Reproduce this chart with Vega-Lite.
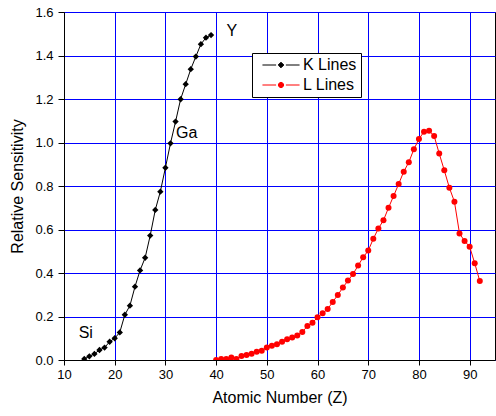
{
  "$schema": "https://vega.github.io/schema/vega-lite/v6.json",
  "width": 431,
  "height": 348,
  "autosize": "none",
  "padding": {"left": 64, "top": 12, "right": 1, "bottom": 56},
  "background": "white",
  "config": {
    "font": "Liberation Sans",
    "view": {"stroke": "black", "strokeWidth": 1},
    "axis": {
      "labelFont": "Liberation Sans",
      "labelFontSize": 13,
      "labelColor": "black",
      "titleFont": "Liberation Sans",
      "titleFontSize": 16,
      "titleFontWeight": "normal",
      "titleColor": "black",
      "domainColor": "black",
      "tickColor": "black"
    }
  },
  "datasets": {
    "lines": [
      {"Z": 14, "S": 0.005, "series": "K Lines"},
      {"Z": 15, "S": 0.017, "series": "K Lines"},
      {"Z": 16, "S": 0.028, "series": "K Lines"},
      {"Z": 17, "S": 0.046, "series": "K Lines"},
      {"Z": 18, "S": 0.057, "series": "K Lines"},
      {"Z": 19, "S": 0.084, "series": "K Lines"},
      {"Z": 20, "S": 0.100, "series": "K Lines"},
      {"Z": 21, "S": 0.127, "series": "K Lines"},
      {"Z": 22, "S": 0.208, "series": "K Lines"},
      {"Z": 23, "S": 0.250, "series": "K Lines"},
      {"Z": 24, "S": 0.337, "series": "K Lines"},
      {"Z": 25, "S": 0.412, "series": "K Lines"},
      {"Z": 26, "S": 0.470, "series": "K Lines"},
      {"Z": 27, "S": 0.572, "series": "K Lines"},
      {"Z": 28, "S": 0.690, "series": "K Lines"},
      {"Z": 29, "S": 0.774, "series": "K Lines"},
      {"Z": 30, "S": 0.884, "series": "K Lines"},
      {"Z": 31, "S": 0.996, "series": "K Lines"},
      {"Z": 32, "S": 1.096, "series": "K Lines"},
      {"Z": 33, "S": 1.199, "series": "K Lines"},
      {"Z": 34, "S": 1.268, "series": "K Lines"},
      {"Z": 35, "S": 1.337, "series": "K Lines"},
      {"Z": 36, "S": 1.395, "series": "K Lines"},
      {"Z": 37, "S": 1.452, "series": "K Lines"},
      {"Z": 38, "S": 1.482, "series": "K Lines"},
      {"Z": 39, "S": 1.494, "series": "K Lines"},
      {"Z": 40, "S": 0.000, "series": "L Lines"},
      {"Z": 41, "S": 0.005, "series": "L Lines"},
      {"Z": 42, "S": 0.005, "series": "L Lines"},
      {"Z": 43, "S": 0.011, "series": "L Lines"},
      {"Z": 44, "S": 0.005, "series": "L Lines"},
      {"Z": 45, "S": 0.018, "series": "L Lines"},
      {"Z": 46, "S": 0.023, "series": "L Lines"},
      {"Z": 47, "S": 0.029, "series": "L Lines"},
      {"Z": 48, "S": 0.038, "series": "L Lines"},
      {"Z": 49, "S": 0.043, "series": "L Lines"},
      {"Z": 50, "S": 0.057, "series": "L Lines"},
      {"Z": 51, "S": 0.066, "series": "L Lines"},
      {"Z": 52, "S": 0.072, "series": "L Lines"},
      {"Z": 53, "S": 0.084, "series": "L Lines"},
      {"Z": 54, "S": 0.095, "series": "L Lines"},
      {"Z": 55, "S": 0.103, "series": "L Lines"},
      {"Z": 56, "S": 0.113, "series": "L Lines"},
      {"Z": 57, "S": 0.129, "series": "L Lines"},
      {"Z": 58, "S": 0.156, "series": "L Lines"},
      {"Z": 59, "S": 0.171, "series": "L Lines"},
      {"Z": 60, "S": 0.196, "series": "L Lines"},
      {"Z": 61, "S": 0.215, "series": "L Lines"},
      {"Z": 62, "S": 0.234, "series": "L Lines"},
      {"Z": 63, "S": 0.267, "series": "L Lines"},
      {"Z": 64, "S": 0.299, "series": "L Lines"},
      {"Z": 65, "S": 0.333, "series": "L Lines"},
      {"Z": 66, "S": 0.365, "series": "L Lines"},
      {"Z": 67, "S": 0.395, "series": "L Lines"},
      {"Z": 68, "S": 0.434, "series": "L Lines"},
      {"Z": 69, "S": 0.472, "series": "L Lines"},
      {"Z": 70, "S": 0.503, "series": "L Lines"},
      {"Z": 71, "S": 0.557, "series": "L Lines"},
      {"Z": 72, "S": 0.605, "series": "L Lines"},
      {"Z": 73, "S": 0.642, "series": "L Lines"},
      {"Z": 74, "S": 0.700, "series": "L Lines"},
      {"Z": 75, "S": 0.754, "series": "L Lines"},
      {"Z": 76, "S": 0.809, "series": "L Lines"},
      {"Z": 77, "S": 0.866, "series": "L Lines"},
      {"Z": 78, "S": 0.909, "series": "L Lines"},
      {"Z": 79, "S": 0.969, "series": "L Lines"},
      {"Z": 80, "S": 1.016, "series": "L Lines"},
      {"Z": 81, "S": 1.050, "series": "L Lines"},
      {"Z": 82, "S": 1.054, "series": "L Lines"},
      {"Z": 83, "S": 1.030, "series": "L Lines"},
      {"Z": 84, "S": 0.949, "series": "L Lines"},
      {"Z": 85, "S": 0.872, "series": "L Lines"},
      {"Z": 86, "S": 0.792, "series": "L Lines"},
      {"Z": 87, "S": 0.728, "series": "L Lines"},
      {"Z": 88, "S": 0.582, "series": "L Lines"},
      {"Z": 89, "S": 0.547, "series": "L Lines"},
      {"Z": 90, "S": 0.521, "series": "L Lines"},
      {"Z": 91, "S": 0.445, "series": "L Lines"},
      {"Z": 92, "S": 0.363, "series": "L Lines"}
    ],
    "labels": [
      {"Z": 14.3, "S": 0.124, "label": "Si"},
      {"Z": 34.2, "S": 1.044, "label": "Ga"},
      {"Z": 43.1, "S": 1.513, "label": "Y"}
    ]
  },
  "layer": [
    {
      "data": {"name": "lines"},
      "mark": {"type": "line", "strokeWidth": 1, "clip": true},
      "encoding": {
        "x": {
          "field": "Z", "type": "quantitative",
          "scale": {"domain": [10, 95], "nice": false, "zero": false},
          "axis": {
            "title": "Atomic Number (Z)",
            "values": [10, 15, 20, 25, 30, 35, 40, 45, 50, 55, 60, 65, 70, 75, 80, 85, 90, 95],
            "labelExpr": "datum.value % 10 === 0 && datum.value < 95 ? datum.label : ''",
            "tickSize": {"condition": {"test": "datum.value % 10 === 0", "value": 5}, "value": 3},
            "grid": true,
            "gridColor": "#0000ff",
            "gridWidth": 1,
            "gridOpacity": {"condition": {"test": "datum.value % 10 === 0", "value": 1}, "value": 0},
            "labelPadding": 3,
            "titlePadding": 8,
            "labelFlush": false
          }
        },
        "y": {
          "field": "S", "type": "quantitative",
          "scale": {"domain": [0, 1.6], "nice": false},
          "axis": {
            "title": "Relative Sensitivity",
            "values": [0, 0.1, 0.2, 0.3, 0.4, 0.5, 0.6, 0.7, 0.8, 0.9, 1.0, 1.1, 1.2, 1.3, 1.4, 1.5, 1.6],
            "labelExpr": "round(datum.value * 10) % 2 === 0 ? format(datum.value, '.1f') : ''",
            "tickSize": {"condition": {"test": "round(datum.value * 10) % 2 === 0", "value": 6}, "value": 4},
            "grid": true,
            "gridColor": "#0000ff",
            "gridWidth": 1,
            "gridOpacity": {"condition": {"test": "round(datum.value * 10) % 2 === 0", "value": 1}, "value": 0},
            "labelPadding": 5,
            "titlePadding": 9,
            "labelFlush": false
          }
        },
        "color": {
          "field": "series", "type": "nominal",
          "scale": {"domain": ["K Lines", "L Lines"], "range": ["#000000", "#ff0000"]},
          "legend": {
            "title": null,
            "orient": "none",
            "legendX": 188,
            "legendY": 41,
            "strokeColor": "black",
            "fillColor": "white",
            "padding": 4,
            "labelFont": "Liberation Sans",
            "labelFontSize": 16,
            "labelColor": "black",
            "symbolSize": 49,
            "symbolOffset": 17,
            "labelOffset": 14,
            "rowPadding": 4,
            "encode": {
              "legend": {
                "update": {
                  "stroke": {"value": "black"},
                  "strokeWidth": {"value": 1},
                  "fill": {"value": "white"}
                }
              },
              "symbols": {
                "update": {
                  "shape": {"signal": "datum.value === 'K Lines' ? 'M-5.3,0H-1.4M1.4,0H5.3M0,-0.8L0.8,0L0,0.8L-0.8,0Z' : 'M-5.3,0H-1.4M1.4,0H5.3M0.75,0A0.75,0.75,0,1,1,-0.75,0A0.75,0.75,0,1,1,0.75,0Z'"},
                  "stroke": {"signal": "datum.value === 'K Lines' ? '#000000' : '#ff5050'"},
                  "fill": {"signal": "datum.value === 'K Lines' ? '#000000' : '#ff0000'"},
                  "strokeWidth": {"value": 1},
                  "opacity": {"value": 1}
                }
              }
            }
          }
        },
        "detail": {"field": "series"}
      }
    },
    {
      "data": {"name": "lines"},
      "transform": [{"filter": "datum.series === 'K Lines'"}],
      "mark": {"type": "point", "shape": "M0,-1L1,0L0,1L-1,0Z", "filled": true, "opacity": 1, "color": "#000000", "size": 40, "clip": true},
      "encoding": {
        "x": {"field": "Z", "type": "quantitative"},
        "y": {"field": "S", "type": "quantitative"}
      }
    },
    {
      "data": {"name": "lines"},
      "transform": [{"filter": "datum.series === 'L Lines'"}],
      "mark": {"type": "point", "shape": "circle", "filled": true, "opacity": 1, "color": "#ff0000", "size": 36, "clip": true},
      "encoding": {
        "x": {"field": "Z", "type": "quantitative"},
        "y": {"field": "S", "type": "quantitative"}
      }
    },
    {
      "data": {"name": "labels"},
      "mark": {"type": "text", "font": "Liberation Sans", "fontSize": 16, "color": "black", "align": "center", "baseline": "middle"},
      "encoding": {
        "x": {"field": "Z", "type": "quantitative"},
        "y": {"field": "S", "type": "quantitative"},
        "text": {"field": "label"}
      }
    }
  ]
}
